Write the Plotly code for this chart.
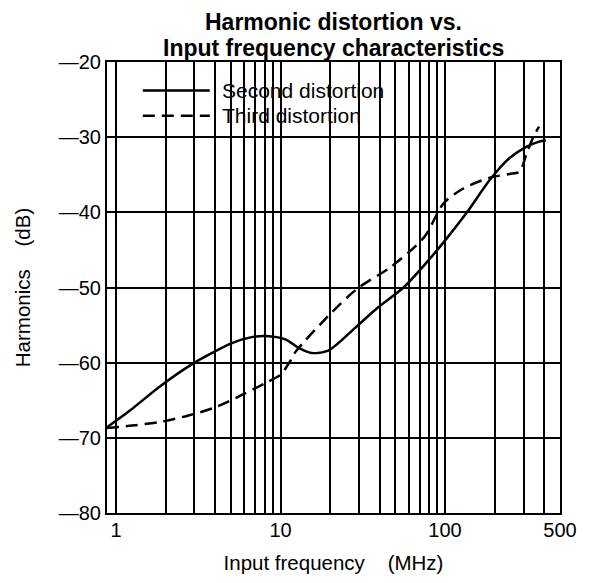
import numpy as np
from plotly import graph_objects as go

# --- Dữ liệu ---
freq_second = [0.88, 1.21, 1.84, 2.9, 3.84, 5.07, 6.69, 8.1, 10.7, 12.8, 15.4, 19.5,
               28.3, 38.9, 56.6, 80, 103, 136, 187, 246, 312, 373, 410]
second_db = [-68.6, -66.4, -63.2, -60.2, -58.7, -57.4, -56.6, -56.45, -56.9, -58.0, -58.7, -58.4,
             -55.4, -52.7, -49.9, -46.3, -43.4, -40.0, -35.7, -32.8, -31.3, -30.6, -30.4]

freq_third = [0.88, 1.21, 1.84, 2.79, 4.06, 5.82, 8.1, 10.0, 11.6, 12.3, 20.3, 29.5,
              46.6, 74.7, 98, 130, 187, 246, 284, 312, 344, 373]
third_db = [-68.7, -68.4, -67.9, -67.0, -65.9, -64.3, -62.7, -61.6, -59.6, -58.6, -53.4, -50.1,
            -47.3, -43.3, -38.8, -36.8, -35.4, -34.9, -34.6, -32.3, -30.0, -28.6]

grid_freqs = [1, 2, 3, 4, 5, 6, 7, 8, 9, 10, 20, 30, 40, 50, 60, 70, 80, 90,
              100, 200, 300, 400, 500]
labelled = {1: '1', 10: '10', 100: '100', 500: '500'}
db_ticks = [-80, -70, -60, -50, -40, -30, -20]

FONT = 'Liberation Sans, Arial, Helvetica, sans-serif'

fig = go.Figure()

fig.add_trace(go.Scatter(
    x=freq_second, y=second_db, mode='lines', name='Second distortion',
    line=dict(color='black', width=2.5, shape='spline', smoothing=0.8),
    showlegend=False
))
fig.add_trace(go.Scatter(
    x=freq_third, y=third_db, mode='lines', name='Third distortion',
    line=dict(color='black', width=2.5, dash='12px,7px', shape='spline', smoothing=0.8),
    showlegend=False
))

# Chú thích vẽ tay (ô trắng che lưới, đoạn mẫu, chữ)
fig.add_shape(type='rect', xref='paper', yref='paper', x0=0, x1=0.7174, y0=0.8333, y1=1,
              fillcolor='white', line=dict(width=0), layer='between')
legend_rows = [('Second distortion', 'solid', 0.937), ('Third distortion', '12px,7px', 0.881)]
for text, dash, yp in legend_rows:
    fig.add_shape(type='line', xref='paper', yref='paper', x0=0.079, x1=0.227, y0=yp, y1=yp,
                  line=dict(color='black', width=2.5, dash=dash))
    fig.add_annotation(x=0.25, y=yp, xref='paper', yref='paper', text=text, showarrow=False,
                       xanchor='left', yanchor='middle', font=dict(size=21, color='black', family=FONT))

# Tiêu đề hai dòng
title_lines = [('Harmonic distortion vs.', 1.0898), ('Input frequency characteristics', 1.0310)]
for text, yp in title_lines:
    fig.add_annotation(x=0.5, y=yp, xref='paper', yref='paper', text='<b>' + text + '</b>',
                       showarrow=False, xanchor='center', yanchor='middle',
                       font=dict(size=23, color='black', family=FONT))

fig.update_layout(
    width=594, height=583,
    margin=dict(l=99, r=42, t=54, b=78),
    paper_bgcolor='white', plot_bgcolor='white',
    font=dict(family=FONT, size=20, color='black'),
)

fig.update_xaxes(
    type='log', range=[-0.0547, np.log10(500)], automargin=False,
    tickvals=grid_freqs, ticktext=[labelled.get(v, '') for v in grid_freqs],
    showgrid=True, gridcolor='black', gridwidth=1.5,
    showline=True, linecolor='black', linewidth=2, mirror=True,
    ticks='', tickfont=dict(size=20), ticklabelstandoff=-2,
    title=dict(text='Input frequency    (MHz)', standoff=16, font=dict(size=20.5)),
    zeroline=False
)
fig.update_yaxes(
    range=[-80, -20], automargin=False,
    tickvals=db_ticks, ticktext=['—' + str(abs(v)) for v in db_ticks],
    showgrid=True, gridcolor='black', gridwidth=1.5,
    showline=True, linecolor='black', linewidth=2, mirror=True,
    ticks='', tickfont=dict(size=20), ticklabelstandoff=0,
    title=dict(text='Harmonics    (dB)', standoff=23, font=dict(size=20.5)),
    zeroline=False
)

fig.write_html('out.html')
